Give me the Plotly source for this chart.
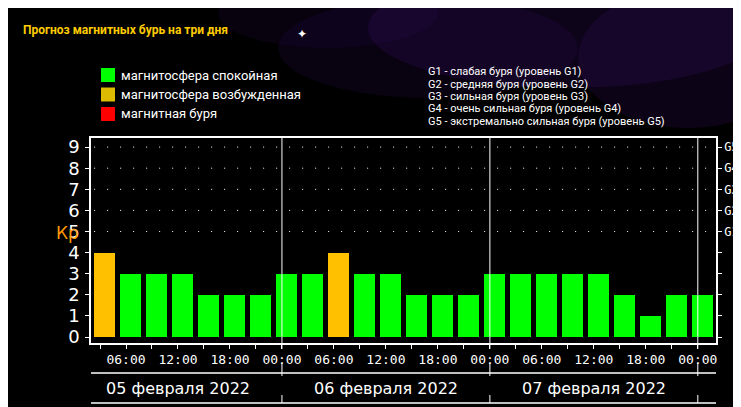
import plotly.graph_objects as go

kp = [4, 3, 3, 3, 2, 2, 2, 3, 3, 4, 3, 3, 2, 2, 2, 3, 3, 3, 3, 3, 2, 1, 2, 2]
hours = [3.5 + 3 * i for i in range(len(kp))]
status = ["возб" if v == 4 else "спок" for v in kp]
color_map = {"спок": "#00ff00", "возб": "#ffc000", "буря": "#ff0000"}
time_ticks = [3 * i for i in range(1, 25)]
time_labels = ["%02d:00" % (h % 24) if h % 6 == 0 else "" for h in time_ticks]
days = ["05 февраля 2022", "06 февраля 2022", "07 февраля 2022"]
legend_items = [("магнитосфера спокойная", "#00ff00"),
                ("магнитосфера возбужденная", "#ddbb00"),
                ("магнитная буря", "#ff0000")]
g_lines = ["G1 - слабая буря (уровень G1)", "G2 - средняя буря (уровень G2)",
           "G3 - сильная буря (уровень G3)", "G4 - очень сильная буря (уровень G4)",
           "G5 - экстремально сильная буря (уровень G5)"]

W, H = 741, 407
L, R, T, B = 83, 708, 130, 335
XR = [1.96, 74.1]
YR = [-0.28, 9.43]

def py(px):  # pixel y -> paper
    return (B - px) / (B - T)

def px_x(px):
    return (px - L) / (R - L)

fig = go.Figure()
fig.add_trace(go.Bar(x=hours, y=kp, width=2.42,
                     marker=dict(color=[color_map[s] for s in status], line_width=0),
                     showlegend=False, hoverinfo="skip"))
fig.add_trace(go.Scatter(x=[None], y=[None], yaxis="y2", showlegend=False))

shapes = []
# nebula glow at top
for cx, cy, rx, ry, op in [(560, 20, 200, 60, 0.22), (420, 40, 150, 50, 0.15),
                           (680, 50, 110, 70, 0.2), (320, 5, 110, 35, 0.12)]:
    shapes.append(dict(type="circle", xref="paper", yref="paper",
                       x0=px_x(cx - rx), x1=px_x(cx + rx), y0=py(cy + ry), y1=py(cy - ry),
                       fillcolor="#3a1070", opacity=op, line_width=0, layer="below"))
# dotted grid
for yv in range(5, 10):
    shapes.append(dict(type="line", xref="paper", yref="y", x0=0.005, x1=1, y0=yv, y1=yv,
                       line=dict(color="white", width=1, dash="1px,12px")))
# day lines
for d in [24, 48, 72]:
    shapes.append(dict(type="line", xref="x", yref="paper", x0=d, x1=d, y0=0, y1=1,
                       line=dict(color="white", width=1)))
    for a, b in [(335, 341), (355, 368), (387, 395)]:
        shapes.append(dict(type="line", xref="x", yref="paper", x0=d, x1=d,
                           y0=py(b), y1=py(a), line=dict(color="white", width=1)))
for yy in [365, 395]:
    shapes.append(dict(type="line", xref="paper", yref="paper", x0=0, x1=1,
                       y0=py(yy), y1=py(yy), line=dict(color="white", width=1.5)))
# legend squares
for i, (t, c) in enumerate(legend_items):
    yc = 67 + 19.5 * i
    shapes.append(dict(type="rect", xref="paper", yref="paper", x0=px_x(93), x1=px_x(107),
                       y0=py(yc + 7), y1=py(yc - 7), fillcolor=c, line_width=0))

ann = []
ann.append(dict(text="<b>Прогноз магнитных бурь на три дня</b>", x=px_x(13), y=py(22),
                xref="paper", yref="paper", xanchor="left", yanchor="middle", showarrow=False,
                font=dict(color="#ffcc00", size=12, family="Liberation Sans Narrow, Roboto")))
ann.append(dict(text="✦", x=px_x(287), y=py(15), xref="paper", yref="paper", showarrow=False,
                font=dict(color="white", size=12)))
for i, (t, c) in enumerate(legend_items):
    ann.append(dict(text=t, x=px_x(111), y=py(67 + 19.5 * i), xref="paper", yref="paper",
                    xanchor="left", yanchor="middle", showarrow=False,
                    font=dict(color="white", size=13, family="Liberation Sans Narrow, Roboto")))
for i, t in enumerate(g_lines):
    ann.append(dict(text=t, x=px_x(418), y=py(64 + 12.3 * i), xref="paper", yref="paper",
                    xanchor="left", yanchor="middle", showarrow=False,
                    font=dict(color="white", size=11, family="Liberation Sans Narrow, Roboto")))
for i, d in enumerate(days):
    ann.append(dict(text=d, x=12 + 24 * i, y=py(380), xref="x", yref="paper", showarrow=False,
                    yanchor="middle", font=dict(color="white", size=16, family="DejaVu Sans")))
ann.append(dict(text="Кр", x=px_x(46), y=4.95, xref="paper", yref="y", showarrow=False,
                font=dict(color="#ff9900", size=17, family="DejaVu Sans")))

fig.update_layout(
    width=W, height=H, margin=dict(l=L, r=W - R, t=T, b=H - B, autoexpand=False),
    paper_bgcolor="black", plot_bgcolor="black", bargap=0,
    shapes=shapes, annotations=ann,
    xaxis=dict(range=XR, tickvals=time_ticks, ticktext=time_labels, ticks="outside",
               ticklen=4, tickcolor="white", showgrid=False, zeroline=False, automargin=False,
               showline=True, linecolor="white", mirror=True, linewidth=1.5,
               tickfont=dict(color="white", size=13, family="DejaVu Sans Mono")),
    yaxis=dict(range=YR, tickvals=list(range(10)), ticks="outside", ticklen=4, tickcolor="white",
               showgrid=False, zeroline=False, showline=True, linecolor="white", linewidth=1.5,
               automargin=False, ticklabelstandoff=2,
               tickfont=dict(color="white", size=18, family="DejaVu Sans")),
    yaxis2=dict(range=YR, overlaying="y", side="right", tickvals=list(range(10)),
                ticktext=[""] * 5 + ["G1", "G2", "G3", "G4", "G5"], ticks="outside",
                ticklen=4, tickcolor="white", showgrid=False, zeroline=False, automargin=False,
                showline=True, linecolor="white", linewidth=1.5,
                tickfont=dict(color="white", size=12, family="DejaVu Sans Mono")),
)
fig.write_html("out.html")
